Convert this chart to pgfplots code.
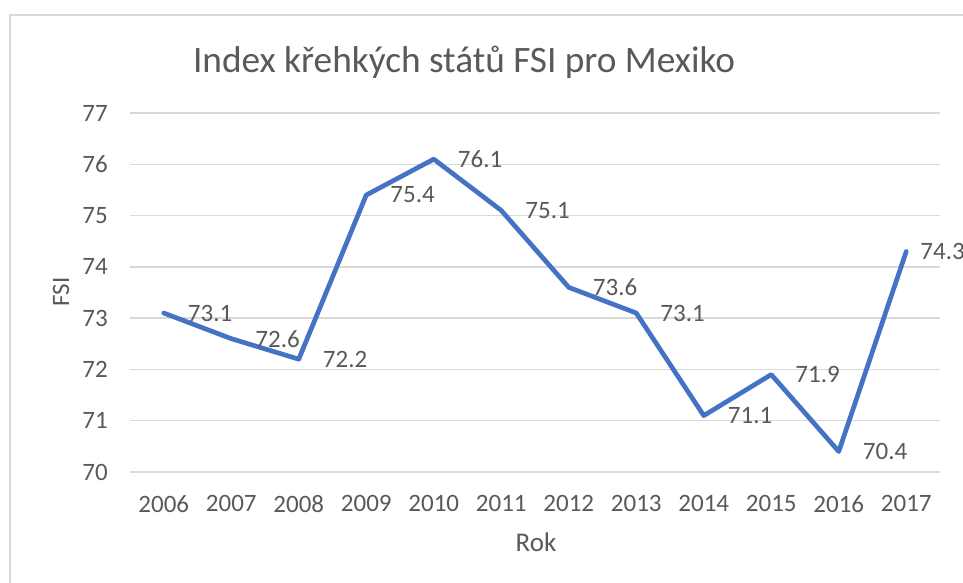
\documentclass[border=0pt]{standalone}
\usepackage{pgfplots}
\pgfplotsset{compat=1.18}
\usepackage{fontspec}
\setmainfont{Carlito}
\definecolor{txtc}{HTML}{595959}
\definecolor{gridc}{HTML}{D9D9D9}
\definecolor{linec}{HTML}{4472C4}
\begin{document}
\begin{tikzpicture}[x=1pt,y=1pt]
\path[use as bounding box] (0,0) rectangle (963,582);
\draw[gridc, line width=1.5pt] (10,-5) -- (10,567) -- (970,567);
\begin{axis}[
  at={(130pt,110pt)}, anchor=south west,
  scale only axis, width=810pt, height=359pt,
  xmin=-0.5, xmax=11.5, ymin=70, ymax=77,
  xtick={0,...,11},
  xticklabels={2006,2007,2008,2009,2010,2011,2012,2013,2014,2015,2016,2017},
  ytick={70,...,77},
  axis line style={draw=none},
  major tick length=0pt,
  xmajorgrids=false,
  ymajorgrids=true,
  major grid style={draw=gridc, line width=1.5pt},
  /pgf/number format/assume math mode=true,
  ticklabel style={font=\fontsize{25}{30}\selectfont, text=txtc, inner sep=0pt},
  yticklabel style={anchor=east, xshift=-22pt},
  xticklabel style={anchor=north, yshift=-23pt},
  clip=false,
]
\addplot[linec, line width=4.7pt, line join=round, line cap=round] coordinates {
  (0,73.1) (1,72.6) (2,72.2) (3,75.4) (4,76.1) (5,75.1)
  (6,73.6) (7,73.1) (8,71.1) (9,71.9) (10,70.4) (11,74.3)};
\addplot[draw=none, mark=none,
  nodes near coords={\pgfmathprintnumber[fixed,fixed zerofill,precision=1,assume math mode=true]{\pgfplotspointmeta}},
  every node near coord/.append style={anchor=west, inner sep=0pt, xshift=24pt, font=\fontsize{25}{30}\selectfont, text=txtc}]
  coordinates {
  (0,73.1) (1,72.6) (2,72.2) (3,75.4) (4,76.1) (5,75.1)
  (6,73.6) (7,73.1) (8,71.1) (9,71.9) (10,70.4)};
\addplot[draw=none, mark=none,
  nodes near coords={\pgfmathprintnumber[fixed,fixed zerofill,precision=1,assume math mode=true]{\pgfplotspointmeta}},
  every node near coord/.append style={anchor=west, inner sep=0pt, xshift=14pt, font=\fontsize{25}{30}\selectfont, text=txtc}]
  coordinates {(11,74.3)};
\end{axis}
\node[anchor=base, inner sep=0pt, text=txtc, font=\fontsize{37.3}{44}\selectfont] at (464,509) {Index křehkých států FSI pro Mexiko};
\node[anchor=base, inner sep=0pt, text=txtc, font=\fontsize{27}{32}\selectfont] at (536,31) {Rok};
\node[anchor=base, rotate=90, inner sep=0pt, text=txtc, font=\fontsize{25}{30}\selectfont] at (69,290) {FSI};
\end{tikzpicture}
\end{document}
